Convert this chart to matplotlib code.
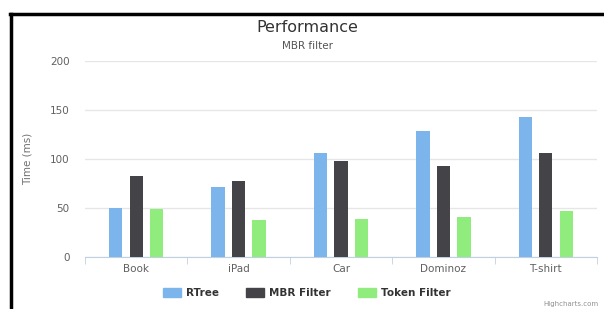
import numpy as np
import matplotlib
matplotlib.use('Agg')
from matplotlib import pyplot as plt
from matplotlib.lines import Line2D
from matplotlib.patches import Patch

categories = ['Book', 'iPad', 'Car', 'Dominoz', 'T-shirt']
rtree = [50, 71, 106, 129, 143]
mbr = [83, 78, 98, 93, 106]
token = [49, 38, 39, 41, 47]
series_names = ['RTree', 'MBR Filter', 'Token Filter']
colors = ['#7cb5ec', '#434348', '#90ed7d']

W, H = 604, 309
fig = plt.figure(figsize=(W/100, H/100), dpi=100)
ax = fig.add_axes([85/W, 1-257/H, (597-85)/W, (257-61)/H])

x = np.arange(len(categories))
bw = 0.13
for i, (vals, c) in enumerate(zip([rtree, mbr, token], colors)):
    ax.bar(x + (i-1)*0.2, vals, bw, color=c, zorder=3)

ax.set_xlim(-0.5, 4.5)
ax.set_ylim(0, 200)
ax.set_yticks([0, 50, 100, 150, 200])
ax.grid(axis='y', color='#e6e6e6', lw=1, zorder=0)
for s in ['top', 'right', 'left']:
    ax.spines[s].set_visible(False)
ax.spines['bottom'].set_color('#c0d0e0')
ax.set_xticks(x)
ax.set_xticklabels(categories)
ax.set_xticks(np.arange(-0.5, 5, 1), minor=True)
ax.tick_params(axis='x', which='major', length=0, pad=5, labelsize=7.5, labelcolor='#606060')
ax.tick_params(axis='x', which='minor', length=5, color='#c0d0e0')
ax.tick_params(axis='y', length=0, pad=11, labelsize=7.5, labelcolor='#606060')
ax.yaxis.set_label_coords((33-85)/(597-85), 0.5)
ax.set_ylabel('Time (ms)', fontsize=7.5, color='#707070')

fig.text(307/W, 1-28/H, 'Performance', ha='center', va='center', fontsize=11.5, color='#333333')
fig.text(307/W, 1-46/H, 'MBR filter', ha='center', va='center', fontsize=7.5, color='#555555')

handles = [Patch(color=c) for c in colors]
fig.legend(handles, series_names, loc='center', bbox_to_anchor=(307/W, 1-293/H), ncol=3,
           frameon=False, handlelength=1.7, handleheight=0.9, columnspacing=2.6, handletextpad=0.5,
           prop={'weight': 'bold', 'size': 7.5})
for t in fig.legends[0].get_texts():
    t.set_color('#333333')

fig.text(598/W, 1-304/H, 'Highcharts.com', ha='right', va='center', fontsize=5, color='#909090')

# black frame lines at top and left
fig.add_artist(Line2D([10/W, 1], [1-14/H, 1-14/H], color='black', lw=2.5, transform=fig.transFigure))
fig.add_artist(Line2D([11/W, 11/W], [0, 1-14/H], color='black', lw=2.5, transform=fig.transFigure))

fig.savefig('out.png', dpi=100, facecolor='white')
